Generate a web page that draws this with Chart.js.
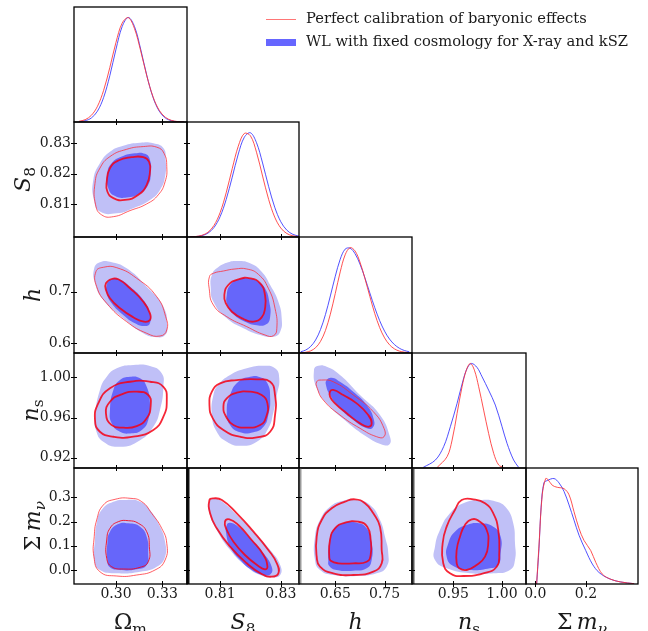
<!DOCTYPE html>
<html>
<head>
<meta charset="utf-8">
<script src="https://cdn.jsdelivr.net/npm/chart.js@4.4.0/dist/chart.umd.min.js"></script>
<style>
  html, body { margin: 0; padding: 0; background: #fff; }
  #wrap { position: relative; width: 648px; height: 631px; overflow: hidden; }
  #wrap canvas { position: absolute; left: 0; top: 0; }
</style>
</head>
<body>
<div id="wrap"></div>
<script>
// ---- axis ranges and ticks ----
const omRange = [0.2728, 0.346];
const s8RangeX = [0.7991, 0.836];
const s8RangeY = [0.7991, 0.837];
const hRangeX = [0.5764, 0.8056];
const hRangeY = [0.5812, 0.806];
const nsRangeX = [0.9076, 1.0247];
const nsRangeY = [0.9098, 1.0242];
const mnuRangeX = [-0.0367, 0.4051];
const mnuRangeY = [-0.0578, 0.4209];

const omTicks = [0.30, 0.33];
const omTickLabels = ['0.30', '0.33'];
const s8TicksX = [0.81, 0.83];
const s8TickLabelsX = ['0.81', '0.83'];
const s8TicksY = [0.81, 0.82, 0.83];
const s8TickLabelsY = ['0.81', '0.82', '0.83'];
const hTicksX = [0.65, 0.75];
const hTickLabelsX = ['0.65', '0.75'];
const hTicksY = [0.6, 0.7];
const hTickLabelsY = ['0.6', '0.7'];
const nsTicksX = [0.95, 1.00];
const nsTickLabelsX = ['0.95', '1.00'];
const nsTicksY = [0.92, 0.96, 1.00];
const nsTickLabelsY = ['0.92', '0.96', '1.00'];
const mnuTicksX = [0.0, 0.2];
const mnuTickLabelsX = ['0.0', '0.2'];
const mnuTicksY = [0.0, 0.1, 0.2, 0.3];
const mnuTickLabelsY = ['0.0', '0.1', '0.2', '0.3'];

const legendLabels = ['Perfect calibration of baryonic effects', 'WL with fixed cosmology for X-ray and kSZ'];

// ---- 1D marginals (normalised to peak) ----
const omGrid = [0.276, 0.280, 0.284, 0.288, 0.292, 0.296, 0.300, 0.304, 0.308, 0.312, 0.316, 0.320, 0.324, 0.328, 0.332, 0.336, 0.340, 0.344];
const omRed  = [0.007, 0.022, 0.063, 0.150, 0.303, 0.521, 0.762, 0.946, 0.998, 0.893, 0.680, 0.439, 0.241, 0.112, 0.045, 0.015, 0.004, 0.001];
const omBlue = [0.003, 0.012, 0.038, 0.104, 0.235, 0.443, 0.696, 0.913, 1.000, 0.913, 0.696, 0.443, 0.235, 0.104, 0.038, 0.012, 0.003, 0.001];

const s8Grid = [0.800, 0.802, 0.804, 0.806, 0.808, 0.810, 0.812, 0.814, 0.816, 0.818, 0.820, 0.822, 0.824, 0.826, 0.828, 0.830, 0.832, 0.834, 0.836];
const s8Red  = [0.001, 0.005, 0.016, 0.045, 0.111, 0.233, 0.422, 0.654, 0.869, 0.991, 0.968, 0.811, 0.583, 0.359, 0.190, 0.086, 0.033, 0.011, 0.003];
const s8Blue = [0.001, 0.004, 0.013, 0.037, 0.091, 0.194, 0.358, 0.572, 0.794, 0.955, 0.997, 0.902, 0.708, 0.482, 0.285, 0.146, 0.065, 0.025, 0.008];

const hGrid = [0.58, 0.59, 0.60, 0.61, 0.62, 0.63, 0.64, 0.65, 0.66, 0.67, 0.68, 0.69, 0.70, 0.71, 0.72, 0.73, 0.74, 0.75, 0.76, 0.77, 0.78, 0.79, 0.80];
const hBlue = [0.012, 0.028, 0.062, 0.123, 0.222, 0.364, 0.541, 0.728, 0.889, 0.985, 0.994, 0.942, 0.844, 0.714, 0.570, 0.431, 0.307, 0.207, 0.132, 0.080, 0.045, 0.024, 0.012];
const hRed  = [0.002, 0.007, 0.020, 0.050, 0.110, 0.213, 0.368, 0.565, 0.769, 0.931, 0.999, 0.968, 0.863, 0.709, 0.538, 0.375, 0.241, 0.143, 0.078, 0.039, 0.018, 0.008, 0.003];

const nsBlueX = [0.9190, 0.9316, 0.9401, 0.9470, 0.9539, 0.9601, 0.9642, 0.9686, 0.9744, 0.9796, 0.9863, 0.9932, 1.0001, 1.0052, 1.0120, 1.0171];
const nsBlue  = [0.005, 0.076, 0.204, 0.395, 0.618, 0.840, 0.952, 1.000, 0.962, 0.872, 0.745, 0.602, 0.395, 0.236, 0.076, 0.007];
const nsRedX = [0.9334, 0.9436, 0.9488, 0.9539, 0.9590, 0.9634, 0.9675, 0.9717, 0.9761, 0.9812, 0.9863, 0.9915, 0.9966, 1.0017];
const nsRed  = [0.005, 0.108, 0.267, 0.522, 0.777, 0.936, 1.000, 0.936, 0.777, 0.554, 0.331, 0.140, 0.029, 0.005];

const mnuBlueX = [0.0053, 0.0144, 0.0235, 0.0341, 0.0472, 0.0737, 0.0934, 0.1132, 0.1330, 0.1527, 0.1725, 0.1990, 0.2251, 0.2515, 0.2911, 0.3373, 0.3899];
const mnuBlue  = [0.0, 0.334, 0.750, 0.959, 0.981, 1.000, 0.959, 0.878, 0.750, 0.606, 0.462, 0.317, 0.189, 0.109, 0.051, 0.019, 0.003];
const mnuRedX = [0.0053, 0.0144, 0.0274, 0.0409, 0.0500, 0.0670, 0.0867, 0.1132, 0.1330, 0.1527, 0.1725, 0.1922, 0.2187, 0.2385, 0.2646, 0.2978, 0.3373, 0.3899];
const mnuRed  = [0.0, 0.360, 0.846, 1.000, 0.990, 0.936, 0.917, 0.904, 0.846, 0.686, 0.526, 0.413, 0.317, 0.205, 0.093, 0.045, 0.019, 0.003];

// ---- 2D contours [x, y] ----
const omS8BlueOut = [[0.2853,0.8179],[0.2896,0.8234],[0.2961,0.8272],[0.3047,0.8292],[0.3156,0.8302],[0.3242,0.8300],[0.3307,0.8284],[0.3322,0.8245],[0.3318,0.8190],[0.3285,0.8146],[0.3220,0.8113],[0.3112,0.8086],[0.3005,0.8069],[0.2896,0.8075],[0.2857,0.8113]];
const omS8BlueIn = [[0.2944,0.8201],[0.2972,0.8234],[0.3037,0.8256],[0.3123,0.8267],[0.3188,0.8265],[0.3220,0.8245],[0.3225,0.8201],[0.3209,0.8163],[0.3156,0.8135],[0.3069,0.8121],[0.2994,0.8126],[0.2950,0.8152]];
const omS8RedOut = [[0.2864,0.8168],[0.2896,0.8218],[0.2961,0.8256],[0.3069,0.8280],[0.3177,0.8289],[0.3264,0.8287],[0.3311,0.8267],[0.3329,0.8223],[0.3318,0.8173],[0.3274,0.8130],[0.3199,0.8100],[0.3091,0.8078],[0.2983,0.8058],[0.2907,0.8064],[0.2868,0.8097]];
const omS8RedIn = [[0.2940,0.8173],[0.2961,0.8218],[0.3015,0.8243],[0.3102,0.8254],[0.3177,0.8254],[0.3214,0.8239],[0.3220,0.8206],[0.3199,0.8163],[0.3145,0.8130],[0.3058,0.8113],[0.2983,0.8119],[0.2944,0.8141]];

const omHBlueOut = [[0.2859,0.7453],[0.2896,0.7570],[0.2961,0.7581],[0.3069,0.7453],[0.3199,0.7097],[0.3307,0.6709],[0.3332,0.6322],[0.3318,0.6161],[0.3264,0.6116],[0.3177,0.6194],[0.3047,0.6485],[0.2918,0.6839],[0.2864,0.7163]];
const omHBlueIn = [[0.2940,0.7130],[0.2961,0.7227],[0.3015,0.7246],[0.3091,0.7097],[0.3177,0.6839],[0.3220,0.6581],[0.3220,0.6388],[0.3188,0.6335],[0.3123,0.6388],[0.3047,0.6548],[0.2972,0.6775],[0.2940,0.6969]];
const omHRedOut = [[0.2870,0.7388],[0.2918,0.7473],[0.3005,0.7465],[0.3134,0.7260],[0.3264,0.6903],[0.3322,0.6516],[0.3329,0.6258],[0.3285,0.6141],[0.3199,0.6194],[0.3069,0.6419],[0.2940,0.6775],[0.2875,0.7097]];
const omHRedIn = [[0.2935,0.7163],[0.2972,0.7246],[0.3015,0.7240],[0.3091,0.7066],[0.3177,0.6806],[0.3220,0.6581],[0.3220,0.6452],[0.3181,0.6419],[0.3112,0.6504],[0.3026,0.6678],[0.2961,0.6872],[0.2935,0.7033]];

const omNsBlueOut = [[0.2864,0.9608],[0.2896,0.9874],[0.2940,1.0006],[0.3005,1.0090],[0.3112,1.0122],[0.3220,1.0112],[0.3296,1.0040],[0.3307,0.9906],[0.3285,0.9675],[0.3242,0.9508],[0.3156,0.9375],[0.3026,0.9309],[0.2918,0.9359],[0.2870,0.9476]];
const omNsBlueIn = [[0.2961,0.9675],[0.2983,0.9874],[0.3026,0.9973],[0.3091,1.0006],[0.3156,0.9990],[0.3199,0.9906],[0.3220,0.9741],[0.3209,0.9575],[0.3167,0.9476],[0.3102,0.9443],[0.3026,0.9459],[0.2972,0.9542]];
const omNsRedOut = [[0.2864,0.9575],[0.2885,0.9741],[0.2961,0.9891],[0.3091,0.9956],[0.3220,0.9956],[0.3307,0.9906],[0.3329,0.9774],[0.3307,0.9608],[0.3242,0.9476],[0.3112,0.9409],[0.2983,0.9409],[0.2896,0.9459]];
const omNsRedIn = [[0.2935,0.9642],[0.2961,0.9757],[0.3037,0.9831],[0.3134,0.9857],[0.3209,0.9824],[0.3225,0.9724],[0.3199,0.9592],[0.3134,0.9515],[0.3047,0.9499],[0.2972,0.9525]];

const omMnuBlueOut = [[0.2859,0.0412],[0.2864,0.1238],[0.2875,0.1927],[0.2907,0.2476],[0.2983,0.2818],[0.3069,0.2889],[0.3156,0.2818],[0.3220,0.2476],[0.3285,0.1787],[0.3318,0.1168],[0.3318,0.0549],[0.3264,0.0136],[0.3156,-0.0071],[0.3005,-0.0137],[0.2896,-0.0003]];
const omMnuBlueIn = [[0.2944,0.0412],[0.2944,0.1102],[0.2961,0.1580],[0.3015,0.1898],[0.3080,0.1927],[0.3156,0.1787],[0.3199,0.1374],[0.3209,0.0689],[0.3199,0.0206],[0.3134,0.0029],[0.3026,0.0000],[0.2961,0.0111]];
const omMnuRedOut = [[0.2857,0.0549],[0.2859,0.1374],[0.2875,0.2063],[0.2918,0.2682],[0.2994,0.2917],[0.3091,0.2959],[0.3167,0.2818],[0.3231,0.2340],[0.3296,0.1721],[0.3329,0.1102],[0.3318,0.0412],[0.3253,0.0000],[0.3134,-0.0207],[0.3005,-0.0248],[0.2896,-0.0071]];
const omMnuRedIn = [[0.2940,0.0483],[0.2940,0.1238],[0.2961,0.1721],[0.3015,0.1993],[0.3080,0.2034],[0.3145,0.1927],[0.3199,0.1580],[0.3216,0.0961],[0.3209,0.0342],[0.3156,0.0111],[0.3047,0.0041],[0.2972,0.0136]];

const s8HBlueOut = [[0.8073,0.7324],[0.8089,0.7453],[0.8122,0.7562],[0.8160,0.7595],[0.8199,0.7550],[0.8237,0.7388],[0.8265,0.7130],[0.8292,0.6806],[0.8303,0.6484],[0.8298,0.6225],[0.8276,0.6128],[0.8232,0.6161],[0.8177,0.6291],[0.8122,0.6484],[0.8078,0.6806],[0.8069,0.7097]];
const s8HBlueIn = [[0.8122,0.6936],[0.8133,0.7130],[0.8160,0.7240],[0.8193,0.7260],[0.8226,0.7194],[0.8248,0.7066],[0.8262,0.6806],[0.8265,0.6516],[0.8252,0.6368],[0.8221,0.6349],[0.8182,0.6419],[0.8144,0.6562],[0.8124,0.6742]];
const s8HRedOut = [[0.8065,0.7291],[0.8078,0.7357],[0.8111,0.7401],[0.8149,0.7440],[0.8188,0.7440],[0.8226,0.7337],[0.8259,0.7066],[0.8281,0.6678],[0.8287,0.6291],[0.8276,0.6147],[0.8248,0.6161],[0.8188,0.6322],[0.8122,0.6516],[0.8078,0.6742],[0.8064,0.7066]];
const s8HRedIn = [[0.8114,0.6936],[0.8127,0.7130],[0.8160,0.7240],[0.8199,0.7260],[0.8232,0.7163],[0.8248,0.6936],[0.8248,0.6678],[0.8237,0.6504],[0.8210,0.6419],[0.8177,0.6471],[0.8139,0.6612],[0.8119,0.6775]];

const s8NsBlueOut = [[0.8073,0.9625],[0.8078,0.9824],[0.8094,0.9923],[0.8133,1.0023],[0.8188,1.0090],[0.8243,1.0115],[0.8281,1.0090],[0.8295,0.9990],[0.8287,0.9824],[0.8276,0.9658],[0.8259,0.9493],[0.8221,0.9359],[0.8166,0.9319],[0.8122,0.9359],[0.8089,0.9459]];
const s8NsBlueIn = [[0.8122,0.9658],[0.8133,0.9824],[0.8160,0.9956],[0.8199,1.0006],[0.8232,1.0000],[0.8256,0.9940],[0.8265,0.9791],[0.8259,0.9625],[0.8243,0.9508],[0.8210,0.9453],[0.8166,0.9453],[0.8133,0.9525]];
const s8NsRedOut = [[0.8065,0.9724],[0.8073,0.9857],[0.8100,0.9940],[0.8155,0.9973],[0.8221,0.9980],[0.8265,0.9956],[0.8281,0.9824],[0.8281,0.9625],[0.8265,0.9459],[0.8221,0.9403],[0.8166,0.9409],[0.8111,0.9476],[0.8076,0.9592]];
const s8NsRedIn = [[0.8111,0.9707],[0.8122,0.9791],[0.8155,0.9847],[0.8199,0.9857],[0.8237,0.9824],[0.8256,0.9741],[0.8252,0.9608],[0.8232,0.9525],[0.8188,0.9499],[0.8144,0.9525],[0.8120,0.9608]];

const hNsBlueOut = [[0.6068,1.0073],[0.6155,1.0115],[0.6326,1.0105],[0.6595,1.0023],[0.7001,0.9824],[0.7407,0.9625],[0.7609,0.9409],[0.7595,0.9333],[0.7441,0.9333],[0.7137,0.9409],[0.6731,0.9558],[0.6358,0.9724],[0.6123,0.9891]];
const hNsBlueIn = [[0.6326,0.9973],[0.6427,0.9996],[0.6595,0.9956],[0.6865,0.9857],[0.7137,0.9724],[0.7285,0.9575],[0.7258,0.9499],[0.7137,0.9493],[0.6865,0.9575],[0.6595,0.9692],[0.6393,0.9824],[0.6311,0.9923]];
const hNsRedOut = [[0.6123,0.9956],[0.6224,0.9973],[0.6459,0.9956],[0.6865,0.9824],[0.7271,0.9658],[0.7488,0.9493],[0.7488,0.9409],[0.7340,0.9409],[0.7001,0.9493],[0.6595,0.9625],[0.6257,0.9774],[0.6135,0.9891]];
const hNsRedIn = [[0.6393,0.9857],[0.6459,0.9874],[0.6662,0.9824],[0.6934,0.9741],[0.7169,0.9625],[0.7238,0.9542],[0.7169,0.9508],[0.7001,0.9542],[0.6731,0.9642],[0.6494,0.9741],[0.6393,0.9807]];

const s8MnuBlueOut = [[0.8065,0.2818],[0.8078,0.2959],[0.8111,0.2777],[0.8155,0.2270],[0.8210,0.1580],[0.8265,0.0825],[0.8298,0.0206],[0.8298,-0.0206],[0.8270,-0.0302],[0.8232,-0.0206],[0.8188,0.0136],[0.8133,0.0825],[0.8089,0.1650],[0.8065,0.2340]];
const s8MnuBlueIn = [[0.8122,0.1857],[0.8133,0.1952],[0.8160,0.1787],[0.8199,0.1308],[0.8243,0.0689],[0.8270,0.0136],[0.8267,-0.0165],[0.8243,-0.0207],[0.8204,0.0000],[0.8166,0.0412],[0.8133,0.0961],[0.8120,0.1514]];
const s8MnuRedOut = [[0.8065,0.2889],[0.8078,0.2959],[0.8106,0.2889],[0.8155,0.2340],[0.8210,0.1580],[0.8259,0.0825],[0.8287,0.0276],[0.8292,-0.0137],[0.8270,-0.0277],[0.8237,-0.0165],[0.8188,0.0276],[0.8133,0.0961],[0.8089,0.1721],[0.8067,0.2340]];
const s8MnuRedIn = [[0.8116,0.1993],[0.8131,0.2092],[0.8160,0.1857],[0.8204,0.1238],[0.8243,0.0619],[0.8256,0.0136],[0.8248,0.0029],[0.8226,0.0165],[0.8182,0.0619],[0.8144,0.1168],[0.8122,0.1650]];

const hMnuBlueOut = [[0.6088,0.0412],[0.6088,0.1374],[0.6190,0.2063],[0.6393,0.2612],[0.6662,0.2860],[0.6934,0.2889],[0.7204,0.2682],[0.7407,0.2063],[0.7508,0.1374],[0.7575,0.0689],[0.7542,0.0136],[0.7340,-0.0137],[0.6934,-0.0248],[0.6459,-0.0207],[0.6190,0.0000]];
const hMnuBlueIn = [[0.6358,0.0412],[0.6378,0.1102],[0.6459,0.1651],[0.6662,0.1927],[0.6934,0.1952],[0.7137,0.1721],[0.7238,0.1102],[0.7238,0.0412],[0.7137,0.0070],[0.6865,-0.0029],[0.6528,0.0000],[0.6378,0.0165]];
const hMnuRedOut = [[0.6123,0.0549],[0.6123,0.1374],[0.6224,0.2063],[0.6427,0.2546],[0.6697,0.2818],[0.6900,0.2917],[0.7102,0.2752],[0.7271,0.2340],[0.7407,0.1787],[0.7441,0.0825],[0.7441,0.0276],[0.7271,-0.0070],[0.6865,-0.0207],[0.6459,-0.0137],[0.6190,0.0137]];
const hMnuRedIn = [[0.6378,0.0549],[0.6393,0.1238],[0.6494,0.1721],[0.6697,0.1952],[0.6966,0.1993],[0.7149,0.1787],[0.7218,0.1238],[0.7218,0.0619],[0.7137,0.0342],[0.6865,0.0276],[0.6561,0.0276],[0.6407,0.0384]];

const nsMnuBlueOut = [[0.9312,0.0412],[0.9312,0.0961],[0.9363,0.1651],[0.9466,0.2340],[0.9603,0.2752],[0.9774,0.2889],[0.9946,0.2818],[1.0048,0.2546],[1.0116,0.1927],[1.0134,0.1102],[1.0134,0.0412],[1.0082,0.0000],[0.9911,-0.0137],[0.9672,-0.0137],[0.9432,0.0070]];
const nsMnuBlueIn = [[0.9432,0.0549],[0.9449,0.1102],[0.9517,0.1580],[0.9638,0.1857],[0.9774,0.1927],[0.9911,0.1787],[0.9987,0.1374],[0.9987,0.0689],[0.9962,0.0206],[0.9877,0.0070],[0.9672,0.0000],[0.9500,0.0165]];
const nsMnuRedOut = [[0.9397,0.0276],[0.9391,0.1102],[0.9432,0.1789],[0.9517,0.2476],[0.9586,0.2889],[0.9705,0.2917],[0.9826,0.2752],[0.9911,0.2340],[0.9962,0.1651],[0.9972,0.0689],[0.9946,0.0136],[0.9808,-0.0137],[0.9603,-0.0248],[0.9466,-0.0137]];
const nsMnuRedIn = [[0.9535,0.0276],[0.9535,0.0825],[0.9569,0.1374],[0.9620,0.1857],[0.9689,0.2092],[0.9774,0.1993],[0.9843,0.1651],[0.9859,0.1102],[0.9826,0.0549],[0.9740,0.0206],[0.9638,0.0000],[0.9562,0.0070]];

// ---- layout ----
const W = 648, H = 631;
const colEdges = [74, 187, 299, 412, 526, 638];
const rowEdges = [7, 122, 237, 353, 468, 584];
const FONT = '"DejaVu Serif", "Liberation Serif", serif';
const TXT = '#1a1a1a';
const BLUE_LIGHT = 'rgb(192,192,247)';
const BLUE_DARK = 'rgb(102,102,250)';
const RED = 'rgba(245,0,20,0.85)';
const RED_THIN = 'rgba(255,40,50,0.75)';

const params = [
  { x: omRange,   y: null,      tx: omTicks,   txl: omTickLabels,   ty: null,      tyl: null,
    title: [{ t: 'Ω' }, { t: 'm', sub: true }] },
  { x: s8RangeX,  y: s8RangeY,  tx: s8TicksX,  txl: s8TickLabelsX,  ty: s8TicksY,  tyl: s8TickLabelsY,
    title: [{ t: 'S', it: true }, { t: '8', sub: true }], ly: 30 },
  { x: hRangeX,   y: hRangeY,   tx: hTicksX,   txl: hTickLabelsX,   ty: hTicksY,   tyl: hTickLabelsY,
    title: [{ t: 'h', it: true }], ly: 40 },
  { x: nsRangeX,  y: nsRangeY,  tx: nsTicksX,  txl: nsTickLabelsX,  ty: nsTicksY,  tyl: nsTickLabelsY,
    title: [{ t: 'n', it: true }, { t: 's', sub: true }], ly: 38 },
  { x: mnuRangeX, y: mnuRangeY, tx: mnuTicksX, txl: mnuTickLabelsX, ty: mnuTicksY, tyl: mnuTickLabelsY,
    title: [{ t: 'Σ' }, { t: '\u2009m', it: true }, { t: 'ν', it: true, sub: true }], ly: 40 }
];

const marginals = [
  { bx: omGrid, by: omBlue, rx: omGrid, ry: omRed },
  { bx: s8Grid, by: s8Blue, rx: s8Grid, ry: s8Red },
  { bx: hGrid, by: hBlue, rx: hGrid, ry: hRed },
  { bx: nsBlueX, by: nsBlue, rx: nsRedX, ry: nsRed },
  { bx: mnuBlueX, by: mnuBlue, rx: mnuRedX, ry: mnuRed }
];

// [row, col, blueOut, blueIn, redOut, redIn, redOutWidth, redInWidth]
const contours = [
  [1, 0, omS8BlueOut, omS8BlueIn, omS8RedOut, omS8RedIn, 1, 1.8],
  [2, 0, omHBlueOut, omHBlueIn, omHRedOut, omHRedIn, 1, 1.8],
  [3, 0, omNsBlueOut, omNsBlueIn, omNsRedOut, omNsRedIn, 1.8, 1.8],
  [4, 0, omMnuBlueOut, omMnuBlueIn, omMnuRedOut, omMnuRedIn, 1, 1],
  [2, 1, s8HBlueOut, s8HBlueIn, s8HRedOut, s8HRedIn, 1, 1.8],
  [3, 1, s8NsBlueOut, s8NsBlueIn, s8NsRedOut, s8NsRedIn, 1.8, 1.8],
  [4, 1, s8MnuBlueOut, s8MnuBlueIn, s8MnuRedOut, s8MnuRedIn, 1.8, 1.8],
  [3, 2, hNsBlueOut, hNsBlueIn, hNsRedOut, hNsRedIn, 1, 1.8],
  [4, 2, hMnuBlueOut, hMnuBlueIn, hMnuRedOut, hMnuRedIn, 1.8, 1.8],
  [4, 3, nsMnuBlueOut, nsMnuBlueIn, nsMnuRedOut, nsMnuRedIn, 1.8, 1.8]
];

// closed loop: wrap one point on each side so the spline is smooth at the seam
function closeLoop(pts) {
  const n = pts.length;
  return [pts[n - 1], ...pts, pts[0], pts[1]].map(p => ({ x: p[0], y: p[1] }));
}

function contourSet(pts, fillColor, lineColor, width) {
  const data = closeLoop(pts);
  const L = data.length;
  const ds = { data, tension: 0.5, pointRadius: 0 };
  if (fillColor) {
    ds.fill = 'shape';
    ds.backgroundColor = fillColor;
    ds.borderColor = 'rgba(0,0,0,0)';
    ds.borderWidth = 0;
  } else {
    ds.fill = false;
    ds.borderColor = lineColor;
    ds.borderWidth = width;
    ds.segment = {
      borderColor: c => (c.p0DataIndex === 0 || c.p0DataIndex === L - 2) ? 'rgba(0,0,0,0)' : undefined
    };
  }
  return ds;
}

function drawMath(ctx, parts, x, y, size, rotate) {
  ctx.save();
  ctx.translate(x, y);
  if (rotate) ctx.rotate(-Math.PI / 2);
  let total = 0;
  const fonts = parts.map(p => {
    const s = p.sub ? size * 0.7 : size;
    const f = (p.it ? 'italic ' : '') + s + 'px ' + FONT;
    ctx.font = f;
    const w = ctx.measureText(p.t).width;
    total += w;
    return { f, w };
  });
  let cx = -total / 2;
  ctx.fillStyle = TXT;
  ctx.textBaseline = 'alphabetic';
  ctx.textAlign = 'left';
  parts.forEach((p, k) => {
    ctx.font = fonts[k].f;
    ctx.fillText(p.t, cx, p.sub ? size * 0.24 : 0);
    cx += fonts[k].w;
  });
  ctx.restore();
}

function framePlugin(r, c) {
  const diag = r === c;
  const px = params[c], py = params[r];
  return {
    id: 'frame',
    afterDraw(chart) {
      const { ctx, chartArea: a } = chart;
      const xs = chart.scales.x, ys = chart.scales.y;
      ctx.save();
      // heavy left edges seen in the bottom row
      if (r === 4 && c >= 1 && c <= 3) {
        ctx.strokeStyle = ['#111', '#9a9a9a', '#555'][c - 1];
        ctx.lineWidth = 3;
        ctx.beginPath();
        ctx.moveTo(a.left + 1, a.top);
        ctx.lineTo(a.left + 1, a.bottom);
        ctx.stroke();
      }
      ctx.strokeStyle = '#000';
      ctx.lineWidth = 1.3;
      ctx.strokeRect(a.left, a.top, a.right - a.left, a.bottom - a.top);
      ctx.lineWidth = 1;
      ctx.beginPath();
      px.tx.forEach(v => {
        const X = Math.round(xs.getPixelForValue(v)) + 0.5;
        ctx.moveTo(X, a.bottom - 3); ctx.lineTo(X, a.bottom + 3);
        if (!diag) { ctx.moveTo(X, a.top - 3); ctx.lineTo(X, a.top + 3); }
      });
      if (!diag) {
        py.ty.forEach(v => {
          const Y = Math.round(ys.getPixelForValue(v)) + 0.5;
          ctx.moveTo(a.left - 3, Y); ctx.lineTo(a.left + 3, Y);
          ctx.moveTo(a.right - 3, Y); ctx.lineTo(a.right + 3, Y);
        });
      }
      ctx.stroke();

      ctx.fillStyle = TXT;
      ctx.font = '14px ' + FONT;
      if (r === 4) {
        ctx.textAlign = 'center';
        ctx.textBaseline = 'top';
        px.tx.forEach((v, k) => ctx.fillText(px.txl[k], xs.getPixelForValue(v), a.bottom + 3));
        drawMath(ctx, px.title, (a.left + a.right) / 2, 629, 22, false);
      }
      if (c === 0 && !diag) {
        ctx.font = '14px ' + FONT;
        ctx.textAlign = 'right';
        ctx.textBaseline = 'middle';
        py.ty.forEach((v, k) => ctx.fillText(py.tyl[k], a.left - 3, ys.getPixelForValue(v)));
        drawMath(ctx, py.title, py.ly, (a.top + a.bottom) / 2, 22, true);
      }
      // legend, drawn once
      if (r === 0 && c === 0) {
        ctx.strokeStyle = 'rgba(255,60,60,0.7)';
        ctx.lineWidth = 1;
        ctx.beginPath(); ctx.moveTo(266, 19.5); ctx.lineTo(296, 19.5); ctx.stroke();
        ctx.fillStyle = 'rgb(102,102,255)';
        ctx.fillRect(266, 39, 30, 7);
        ctx.fillStyle = TXT;
        ctx.font = '14.7px ' + FONT;
        ctx.textAlign = 'left';
        ctx.textBaseline = 'middle';
        ctx.fillText(legendLabels[0], 306, 19);
        ctx.fillText(legendLabels[1], 306, 42);
      }
      ctx.restore();
    }
  };
}

function makePanel(r, c, datasets, yRange) {
  const cv = document.createElement('canvas');
  cv.width = W; cv.height = H;
  document.getElementById('wrap').appendChild(cv);
  new Chart(cv, {
    type: 'line',
    data: { datasets },
    options: {
      responsive: false,
      animation: false,
      events: [],
      layout: { padding: { left: colEdges[c], right: W - colEdges[c + 1], top: rowEdges[r], bottom: H - rowEdges[r + 1] } },
      scales: {
        x: { type: 'linear', min: params[c].x[0], max: params[c].x[1], display: false },
        y: { type: 'linear', min: yRange[0], max: yRange[1], display: false }
      },
      plugins: { legend: { display: false }, tooltip: { enabled: false } }
    },
    plugins: [framePlugin(r, c)]
  });
}

// diagonal panels
marginals.forEach((m, k) => {
  const toPts = (xs, ys) => xs.map((x, i) => ({ x, y: ys[i] }));
  makePanel(k, k, [
    { data: toPts(m.rx, m.ry), borderColor: 'rgba(255,50,50,0.85)', borderWidth: 1, pointRadius: 0, tension: 0.35, fill: false },
    { data: toPts(m.bx, m.by), borderColor: 'rgba(50,50,255,0.85)', borderWidth: 1, pointRadius: 0, tension: 0.35, fill: false }
  ], [0, 1.1]);
});

// off-diagonal panels
contours.forEach(([r, c, bo, bi, ro, ri, wo, wi]) => {
  makePanel(r, c, [
    contourSet(ri, null, RED, wi),
    contourSet(ro, null, wo > 1.2 ? RED : RED_THIN, wo),
    contourSet(bi, BLUE_DARK),
    contourSet(bo, BLUE_LIGHT)
  ], params[r].y);
});
</script>
</body>
</html>
